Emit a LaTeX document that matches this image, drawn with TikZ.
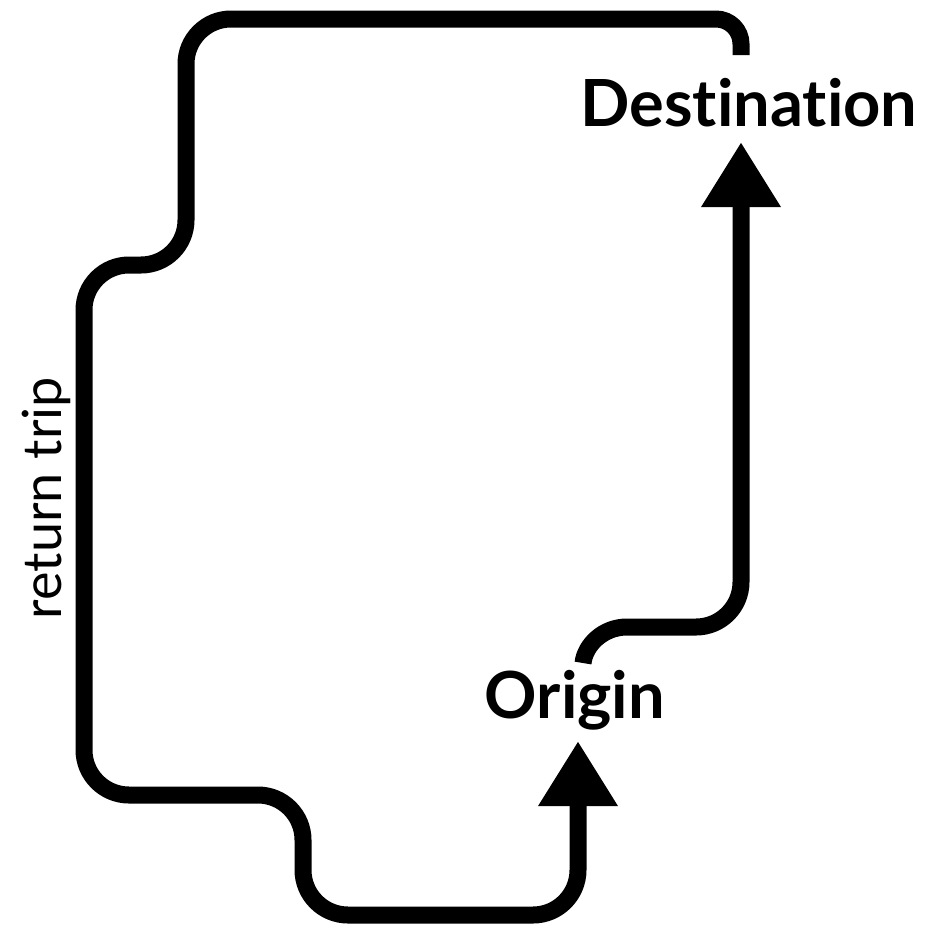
\documentclass[tikz,border=0pt]{standalone}
\usepackage{fontspec}
\setmainfont{Lato}[Ligatures={NoCommon}]
\usetikzlibrary{arrows.meta}
\begin{document}
\begin{tikzpicture}[x=1pt,y=-1pt,
  route/.style={line width=17pt,line cap=butt,black},
  tip/.style={-{Triangle[width=75pt 0 0,length=65pt 0 0]}},
  place/.style={font=\fontsize{65}{67}\selectfont\bfseries,inner sep=0pt},
  side/.style={font=\fontsize{54}{56}\selectfont,inner sep=0pt,rotate=90}]
\useasboundingbox (0,0) rectangle (949,938);
\node[place] (dest) at (749,103) {Destination};
\node[place] (orig) at (575,700) {Origin};
\node[side] (ret) at (46,498) {return trip};
\coordinate (o1) at (583,663);
\coordinate (d1) at (741,55);
\coordinate (dtip) at (741,142);
\coordinate (otip) at (578,741);
% outbound
\draw[route,tip] (o1) .. controls (585,645) and (603,627) .. (627,627)
  [rounded corners=45pt] -- (741,627) -- (dtip);
% return
\draw[route,tip] (d1) [rounded corners=25pt] -- (741,19) [rounded corners=45pt] -- (186,19) -- (186,265)
  -- (84,265) -- (84,795) -- (303,795) -- (303,915) -- (578,915) -- (otip);
\end{tikzpicture}
\end{document}
